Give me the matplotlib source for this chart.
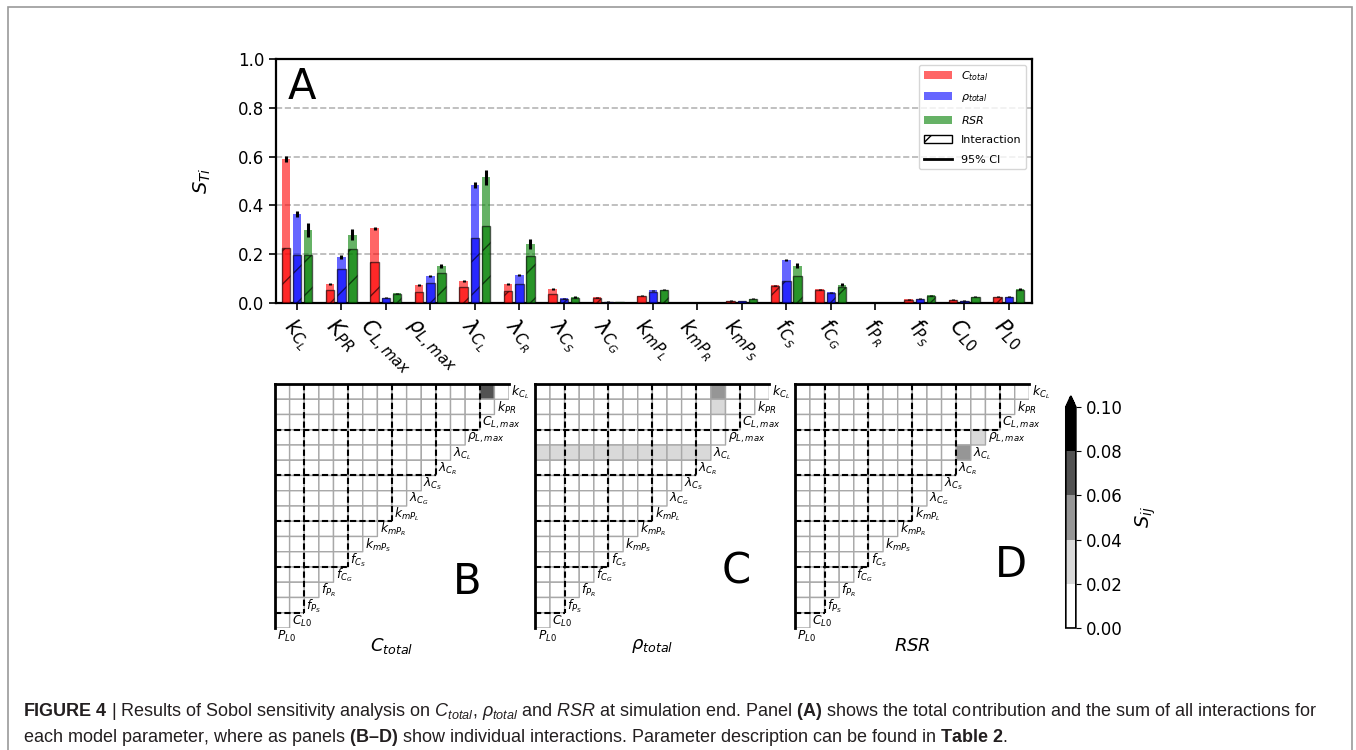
import numpy as np
import matplotlib
matplotlib.use("Agg")
import matplotlib.pyplot as plt
from matplotlib.colors import ListedColormap, BoundaryNorm
from matplotlib.cm import ScalarMappable
from matplotlib.patches import Patch, Rectangle
from matplotlib.lines import Line2D

plt.rcParams['mathtext.rm'] = 'Liberation Sans'
plt.rcParams['mathtext.it'] = 'Liberation Sans:italic'
plt.rcParams['mathtext.bf'] = 'Liberation Sans:bold'

# ---- panel A data (total order index, interaction part, 95% CI half width)
bar_labels = [r'$k_{C_L}$', r'$K_{PR}$', r'$C_{L,max}$', r'$\rho_{L,max}$', r'$\lambda_{C_L}$',
              r'$\lambda_{C_R}$', r'$\lambda_{C_S}$', r'$\lambda_{C_G}$', r'$k_{mP_L}$', r'$k_{mP_R}$',
              r'$k_{mP_S}$', r'$f_{C_S}$', r'$f_{C_G}$', r'$f_{P_R}$', r'$f_{P_S}$', r'$C_{L0}$', r'$P_{L0}$']

ctot_ST = [0.59, 0.078, 0.307, 0.075, 0.09, 0.079, 0.059, 0.023, 0.029, 0.0, 0.01, 0.072, 0.056, 0.0, 0.016, 0.014, 0.026]
ctot_int = [0.225, 0.052, 0.169, 0.045, 0.065, 0.049, 0.037, 0.02, 0.027, 0.0, 0.008, 0.07, 0.053, 0.0, 0.012, 0.012, 0.025]
ctot_ci = [0.012, 0.004, 0.006, 0.004, 0.004, 0.004, 0.004, 0.002, 0.002, 0.0, 0.001, 0.003, 0.002, 0.0, 0.002, 0.002, 0.002]

rho_ST = [0.365, 0.187, 0.022, 0.112, 0.485, 0.116, 0.02, 0.006, 0.052, 0.0, 0.008, 0.175, 0.044, 0.0, 0.018, 0.01, 0.026]
rho_int = [0.195, 0.139, 0.02, 0.082, 0.266, 0.078, 0.018, 0.005, 0.044, 0.0, 0.007, 0.091, 0.041, 0.0, 0.017, 0.009, 0.025]
rho_ci = [0.012, 0.008, 0.002, 0.004, 0.012, 0.004, 0.002, 0.001, 0.003, 0.0, 0.001, 0.004, 0.003, 0.0, 0.001, 0.001, 0.002]

rsr_ST = [0.30, 0.28, 0.04, 0.15, 0.515, 0.243, 0.024, 0.005, 0.055, 0.0, 0.018, 0.152, 0.074, 0.0, 0.031, 0.026, 0.056]
rsr_int = [0.197, 0.221, 0.037, 0.121, 0.316, 0.191, 0.02, 0.004, 0.052, 0.0, 0.016, 0.109, 0.067, 0.0, 0.03, 0.025, 0.053]
rsr_ci = [0.028, 0.022, 0.003, 0.008, 0.03, 0.02, 0.003, 0.001, 0.003, 0.0, 0.002, 0.01, 0.006, 0.0, 0.002, 0.002, 0.004]

# ---- panels B-D: second order indices (param i, param j, S_ij), everything else ~0
tri_labels = [r'$k_{C_L}$', r'$k_{PR}$', r'$C_{L,max}$', r'$\rho_{L,max}$', r'$\lambda_{C_L}$',
              r'$\lambda_{C_R}$', r'$\lambda_{C_S}$', r'$\lambda_{C_G}$', r'$k_{mP_L}$', r'$k_{mP_R}$',
              r'$k_{mP_S}$', r'$f_{C_S}$', r'$f_{C_G}$', r'$f_{P_R}$', r'$f_{P_S}$', r'$C_{L0}$', r'$P_{L0}$']
sij_ctot = [(0, 2, 0.07)]
rho_lamCL_partner = [5, 6, 7, 8, 9, 10, 11, 12, 13, 14, 15, 16]
rho_lamCL_value = [0.03, 0.03, 0.03, 0.03, 0.03, 0.03, 0.03, 0.03, 0.03, 0.03, 0.03, 0.03]
sij_rho = [(0, 4, 0.05), (1, 4, 0.03)] + [(4, j, v) for j, v in zip(rho_lamCL_partner, rho_lamCL_value)]
sij_rsr = [(3, 4, 0.03), (4, 5, 0.05)]

levels = [0.0, 0.02, 0.04, 0.06, 0.08, 0.10]
greys = ['#ffffff', '#d9d9d9', '#969696', '#525252', '#000000']


def BuildMatrix(pairs, n):
    M = np.zeros((n - 1, n - 1))
    for i, j, v in pairs:
        M[i, n - 1 - j] = v
    rows, cols = np.indices(M.shape)
    return np.ma.masked_array(M, mask=cols >= (n - 1 - rows))


def Triangle(ax, pairs, title, letter, letter_xy, cmap, norm):
    n = len(tri_labels)
    M = BuildMatrix(pairs, n)
    # pcolor skips masked cells, so only the upper-left triangle gets edges
    ax.pcolor(np.arange(n), np.arange(n), M, cmap=cmap, norm=norm,
              edgecolors='#a8a8a8', linewidth=1.0)
    ax.set_xlim(0, n - 1)
    ax.set_ylim(n - 1, 0)
    ax.axis('off')
    for k in [3, 6, 9, 12, 15]:
        ax.plot([0, n - k], [k, k], color='black', lw=1.5, ls=(0, (3, 1.5)), clip_on=False)
        ax.plot([n - k, n - k], [0, k], color='black', lw=1.5, ls=(0, (3, 1.5)), clip_on=False)
    ax.plot([0, n - 1], [0, 0], color='black', lw=2, clip_on=False, solid_capstyle='projecting')
    ax.plot([0, 0], [0, n - 1], color='black', lw=2, clip_on=False, solid_capstyle='projecting')
    for i, lab in enumerate(tri_labels):
        ax.text(n - 1 - i + 0.15, i + 0.55, lab, fontsize=8.8, ha='left', va='center', clip_on=False)
    ax.text(0.5, -0.075, title, fontsize=13, ha='center', va='center', transform=ax.transAxes)
    ax.text(letter_xy[0], letter_xy[1], letter, fontsize=30, ha='center', va='center',
            transform=ax.transAxes)


fig = plt.figure(figsize=(13.56, 7.5), dpi=100)

# ---- panel A
ax = fig.add_axes([0.2035, 0.596, 0.5575, 0.3253])
x = np.arange(len(bar_labels))
w = 0.19
series = [(ctot_ST, ctot_int, ctot_ci, 'red', -0.25),
          (rho_ST, rho_int, rho_ci, 'blue', 0.0),
          (rsr_ST, rsr_int, rsr_ci, 'green', 0.25)]
for ST, INT, CI, col, off in series:
    ax.bar(x + off, ST, width=w, color=col, alpha=0.6, linewidth=0, zorder=2)
    ax.bar(x + off, INT, width=w, color=col, alpha=0.6, edgecolor='black', linewidth=1.0,
           hatch='/', zorder=3)
    ax.errorbar(x + off, ST, yerr=CI, fmt='none', ecolor='black', elinewidth=2.2, capsize=0, zorder=4)

ax.set_xlim(-0.47, 16.52)
ax.set_ylim(0, 1.0)
ax.set_yticks([0.0, 0.2, 0.4, 0.6, 0.8, 1.0])
ax.set_yticklabels(['0.0', '0.2', '0.4', '0.6', '0.8', '1.0'], fontsize=12)
ax.set_xticks(x)
ax.set_xticklabels(bar_labels, rotation=-45, ha='center', fontsize=15.5)
for yv in [0.2, 0.4, 0.6, 0.8]:
    ax.axhline(yv, color='#b5b5b5', ls='--', lw=1.2, zorder=1)
for s in ax.spines.values():
    s.set_linewidth(1.6)
ax.tick_params(width=1.2, length=5)
ax.set_ylabel(r'$S_{Ti}$', fontsize=14)
ax.yaxis.set_label_coords(-0.083, 0.5)
ax.text(0.015, 0.97, 'A', fontsize=30, ha='left', va='top', transform=ax.transAxes)

handles = [Patch(facecolor='red', alpha=0.6), Patch(facecolor='blue', alpha=0.6),
           Patch(facecolor='green', alpha=0.6),
           Patch(facecolor='white', edgecolor='black', hatch='/'),
           Line2D([0], [0], color='black', lw=2)]
ax.legend(handles, [r'$C_{total}$', r'$\rho_{total}$', r'$RSR$', 'Interaction', '95% CI'],
          loc='upper right', fontsize=8, handlelength=2.6, labelspacing=0.85)

# ---- panels B-D
cmap = ListedColormap(greys)
cmap.set_over('#000000')
norm = BoundaryNorm(levels, cmap.N)

axB = fig.add_axes([0.2028, 0.1627, 0.1726, 0.3253])
Triangle(axB, sij_ctot, r'$C_{total}$', 'B', (0.82, 0.19), cmap, norm)
axC = fig.add_axes([0.3948, 0.1627, 0.1726, 0.3253])
Triangle(axC, sij_rho, r'$\rho_{total}$', 'C', (0.86, 0.23), cmap, norm)
axD = fig.add_axes([0.5865, 0.1627, 0.1726, 0.3253])
Triangle(axD, sij_rsr, r'$RSR$', 'D', (0.92, 0.26), cmap, norm)

cax = fig.add_axes([0.786, 0.1627, 0.0074, 0.3093])
cb = fig.colorbar(ScalarMappable(norm=norm, cmap=cmap), cax=cax, extend='max',
                  extendfrac=0.05, ticks=levels)
cb.ax.set_yticklabels(['0.00', '0.02', '0.04', '0.06', '0.08', '0.10'], fontsize=12)
cb.outline.set_linewidth(1.2)
cb.set_label(r'$S_{ij}$', fontsize=14, labelpad=8)

# ---- caption and frame
fig.add_artist(Rectangle((0.0059, -0.05), 0.9915, 1.0407, transform=fig.transFigure,
                         fill=False, edgecolor='#9a9a9a', lw=1.2))
cap1 = (r'$\mathbf{FIGURE\ 4}$ | Results of Sobol sensitivity analysis on $C_{total}$, $\rho_{total}$ '
        r'and $RSR$ at simulation end. Panel $\mathbf{(A)}$ shows the total contribution and the sum of all interactions for')
cap2 = ('each model parameter, where as panels $\\mathbf{(B–D)}$ show individual interactions. '
        'Parameter description can be found in $\\mathbf{Table\\ 2}$.')
fig.text(23 / 1356, 1 - 712 / 750, cap1, fontsize=13, family='Liberation Sans',
         math_fontfamily='custom', va='center', ha='left', color='#231f20')
fig.text(23 / 1356, 1 - 738 / 750, cap2, fontsize=13, family='Liberation Sans',
         math_fontfamily='custom', va='center', ha='left', color='#231f20')

fig.savefig('out.png', dpi=100)
